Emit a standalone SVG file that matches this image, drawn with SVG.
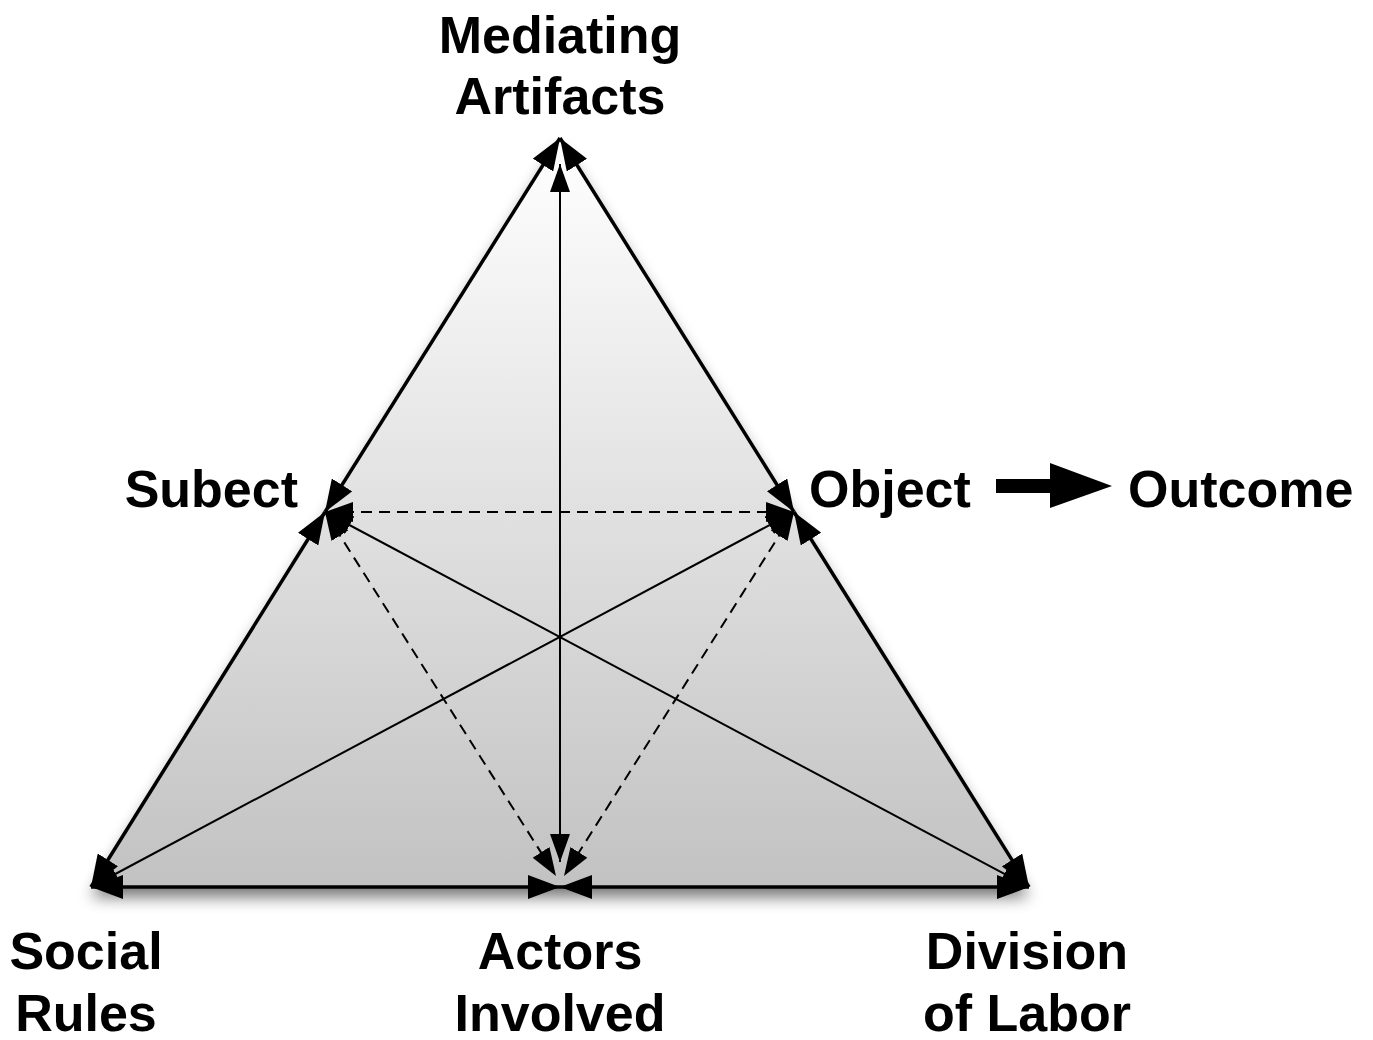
<svg xmlns="http://www.w3.org/2000/svg" width="1373" height="1040" viewBox="0 0 1373 1040">
<style>
.lbl{font-family:"Liberation Sans",Arial,sans-serif;font-weight:bold;font-size:52px;fill:#000}
.thick{stroke:#000;stroke-width:3.5;fill:none;marker-start:url(#big);marker-end:url(#big)}
.thin{stroke:#000;stroke-width:2;fill:none;marker-start:url(#small);marker-end:url(#small)}
.dash{stroke-dasharray:11 7}
</style>
<defs>
<linearGradient id="fillg" x1="0" y1="138" x2="0" y2="887" gradientUnits="userSpaceOnUse">
<stop offset="0" stop-color="#ffffff"/>
<stop offset="1" stop-color="#c2c2c2"/>
</linearGradient>
<filter id="shadow" x="-10%" y="-10%" width="120%" height="125%">
<feGaussianBlur in="SourceAlpha" stdDeviation="8"/>
<feOffset dx="0" dy="10" result="b"/>
<feComponentTransfer><feFuncA type="linear" slope="0.55"/></feComponentTransfer>
<feMerge><feMergeNode/><feMergeNode in="SourceGraphic"/></feMerge>
</filter>
<marker id="big" viewBox="0 0 32 24" refX="32" refY="12" markerWidth="32" markerHeight="24" markerUnits="userSpaceOnUse" orient="auto-start-reverse">
<path d="M0,0 L32,12 L0,24 z" fill="#000"/>
</marker>
<marker id="small" viewBox="0 0 28 20" refX="28" refY="10" markerWidth="28" markerHeight="20" markerUnits="userSpaceOnUse" orient="auto-start-reverse">
<path d="M0,0 L28,10 L0,20 z" fill="#000"/>
</marker>
</defs>
<rect width="1373" height="1040" fill="#fff"/>
<g id="triangle">
<polygon points="560,138 91,887 1029,887" fill="url(#fillg)" filter="url(#shadow)"/>
</g>
<g id="connectors">
<line class="thick" x1="560" y1="138" x2="325" y2="512"/>
<line class="thick" x1="560" y1="138" x2="794" y2="512"/>
<line class="thick" x1="325" y1="512" x2="91" y2="887"/>
<line class="thick" x1="794" y1="512" x2="1029" y2="887"/>
<line class="thick" x1="91" y1="887" x2="560" y2="887"/>
<line class="thick" x1="560" y1="887" x2="1029" y2="887"/>
<line class="thin" x1="560" y1="164" x2="560" y2="862"/>
<line class="thin dash" x1="325" y1="512" x2="794" y2="512"/>
<line class="thin dash" x1="325" y1="512" x2="556" y2="876"/>
<line class="thin dash" x1="794" y1="512" x2="564" y2="876"/>
<line class="thin" x1="325" y1="512" x2="1029" y2="887"/>
<line class="thin" x1="794" y1="512" x2="91" y2="887"/>
<polygon points="996,479 1050,479 1050,463 1112,486 1050,508 1050,493 996,493" fill="#000"/>
</g>
<g id="node-mediating"><text class="lbl" x="560" y="53" text-anchor="middle">Mediating</text><text class="lbl" x="560" y="114" text-anchor="middle">Artifacts</text></g>
<g id="node-subject"><text class="lbl" x="298" y="507" text-anchor="end">Subect</text></g>
<g id="node-object"><text class="lbl" x="809" y="507">Object</text></g>
<g id="node-outcome"><text class="lbl" x="1128" y="507">Outcome</text></g>
<g id="node-social"><text class="lbl" x="86" y="969" text-anchor="middle">Social</text><text class="lbl" x="86" y="1031" text-anchor="middle">Rules</text></g>
<g id="node-actors"><text class="lbl" x="560" y="969" text-anchor="middle">Actors</text><text class="lbl" x="560" y="1031" text-anchor="middle">Involved</text></g>
<g id="node-division"><text class="lbl" x="1027" y="969" text-anchor="middle">Division</text><text class="lbl" x="1027" y="1031" text-anchor="middle">of Labor</text></g>
</svg>
